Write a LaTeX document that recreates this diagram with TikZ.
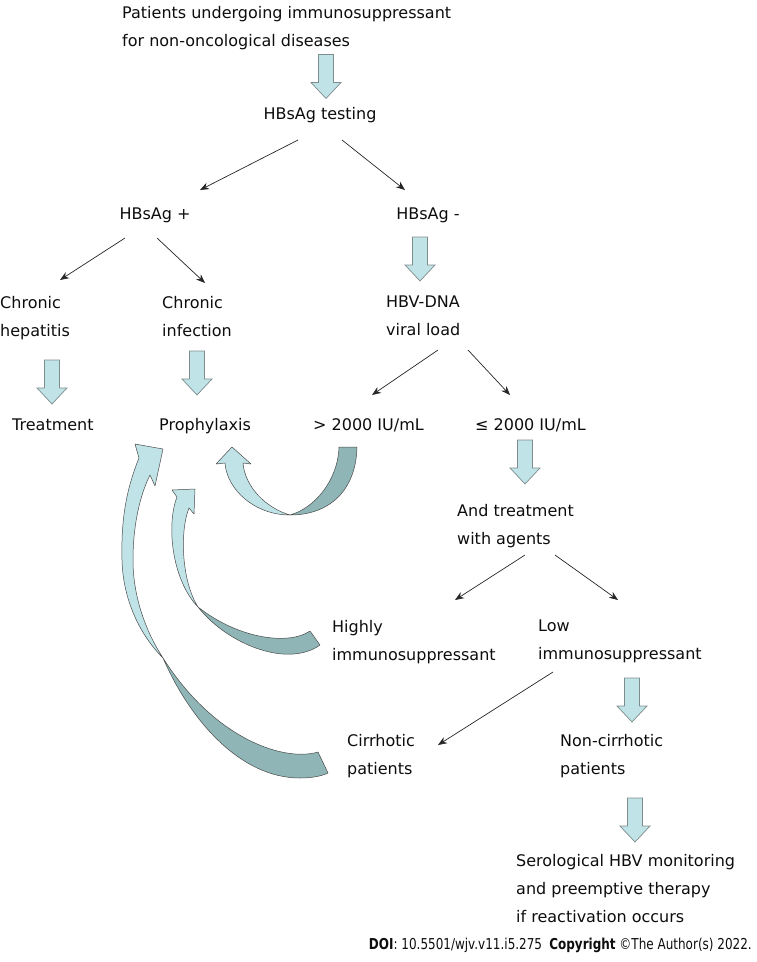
\documentclass[tikz,border=0pt]{standalone}
\usepackage{fontspec}
\setmainfont{DejaVu Sans}
\usetikzlibrary{arrows.meta}
\definecolor{ribbonlight}{HTML}{BFE3E7}
\definecolor{ribbondark}{HTML}{8FB5B6}
\definecolor{ribbonedge}{HTML}{4A4A4A}
\definecolor{blockedge}{HTML}{7F8C8D}
\tikzset{
  txt/.style={inner sep=0pt, align=left, font=\fontsize{16}{28}\selectfont, text=black!95},
  one/.style={txt, text height=12pt, text depth=4pt},
  thinarr/.style={-{Stealth[length=9pt, width=7pt]}, line width=0.7pt, draw=black!85},
  blockfill/.style={draw=blockedge, fill=ribbonlight, line width=0.7pt, line join=miter},
  pics/blockarr/.style={code={
    \draw[blockfill] (-7.5,-22) -- (7.5,-22) -- (7.5,6) -- (15,6) -- (0,22)
      -- (-15,6) -- (-7.5,6) -- cycle;}},
  lightface/.style={fill=ribbonlight, draw=ribbonedge, line width=0.5pt, line join=round},
  darkface/.style={fill=ribbondark, draw=ribbonedge, line width=0.5pt, line join=round},
}

\begin{document}
\begin{tikzpicture}[x=1pt, y=-1pt]
  \useasboundingbox (0,0) rectangle (757,962);

  % Top of the chart
  \node[txt, anchor=north west] (pts) at (122,6) {Patients undergoing immunosuppressant\\for non-oncological diseases};
  \node[one] (testing) at (320,115) {HBsAg testing};
  \node[one] (hbpos) at (155,215) {HBsAg +};
  \node[one] (hbneg) at (428,215) {HBsAg -};

  % Second level
  \node[txt, anchor=north west] (hepat) at (0,296) {Chronic\\hepatitis};
  \node[txt, anchor=north west] (infect) at (162,296) {Chronic\\infection};
  \node[txt, anchor=north west] (hbvdna) at (386,296) {HBV-DNA\\viral load};

  % Outcome row
  \node[one, anchor=west] (treat) at (12,426) {Treatment};
  \node[one, anchor=west] (proph) at (159,426) {Prophylaxis};
  \node[one, anchor=west] (over) at (313,426) {> 2000 IU/mL};
  \node[one, anchor=west] (under) at (475,426) {≤ 2000 IU/mL};

  % Low viral load branch
  \node[txt, anchor=north west] (agents) at (457,504) {And treatment\\with agents};
  \node[txt, anchor=north west] (highly) at (332,620) {Highly\\immunosuppressant};
  \node[txt, anchor=north west] (low) at (538,620) {Low\\immunosuppressant};
  \node[txt, anchor=north west] (cirr) at (347,734) {Cirrhotic\\patients};
  \node[txt, anchor=north west] (noncirr) at (560,734) {Non-cirrhotic\\patients};
  \node[txt, anchor=north west] (sero) at (516,854) {Serological HBV monitoring\\and preemptive therapy\\if reactivation occurs};

  % Footer
  \node[one, anchor=east] (doi) at (752,945) {\scalebox{0.8}[1]{\fontsize{15}{18}\selectfont\textbf{DOI}: 10.5501/wjv.v11.i5.275\hspace{0.6em}\textbf{Copyright} ©The Author(s) 2022.}};

  % Block arrows
  \pic (bA) at (326,76.5) {blockarr};
  \pic (bB) at (420,259) {blockarr};
  \pic (bC) at (52,382) {blockarr};
  \pic (bD) at (197,373) {blockarr};
  \pic (bE) at (525,462) {blockarr};
  \pic (bF) at (632,700) {blockarr};
  \pic (bG) at (635,820) {blockarr};

  % Thin arrows
  \draw[thinarr] ([shift={(-22,25)}]testing.center) -- ([shift={(45,-25)}]hbpos.center);
  \draw[thinarr] ([shift={(22,25)}]testing.center) -- ([shift={(-23,-25)}]hbneg.center);
  \draw[thinarr] ([shift={(-30,23)}]hbpos.center) -- ([shift={(60,-16)}]hepat.north west);
  \draw[thinarr] ([shift={(2,23)}]hbpos.center) -- ([shift={(43,-13)}]infect.north west);
  \draw[thinarr] ([shift={(52,54)}]hbvdna.north west) -- ([shift={(59,-31)}]over.west);
  \draw[thinarr] ([shift={(82,54)}]hbvdna.north west) -- ([shift={(35,-31)}]under.west);
  \draw[thinarr] ([shift={(68,51)}]agents.north west) -- ([shift={(123,-20)}]highly.north west);
  \draw[thinarr] ([shift={(98,51)}]agents.north west) -- ([shift={(80,-20)}]low.north west);
  \draw[thinarr] ([shift={(15,52)}]low.north west) -- ([shift={(91,11)}]cirr.north west);

  % Curved arrow: > 2000 IU/mL back to prophylaxis
  \draw[lightface] (290,515) .. controls (255,515) and (227,490) .. (225,463)
    -- (216,464) -- (232,447) -- (251,464) -- (243,463)
    .. controls (245,487) and (266,508) .. cycle;
  \draw[darkface] (290,515) .. controls (330,515) and (356,490) .. (357,447)
    -- (339,447) .. controls (338,480) and (315,508) .. cycle;

  % Curved arrow: highly immunosuppressant to prophylaxis
  \draw[lightface] (198,607) .. controls (172,580) and (166,525) .. (177,497)
    -- (172,490) -- (195,489) -- (194,514) -- (189,508)
    .. controls (180,530) and (181,580) .. cycle;
  \draw[darkface] (198,607) .. controls (228,645) and (288,668) .. (320,645)
    -- (310,631) .. controls (290,645) and (240,640) .. cycle;

  % Curved arrow: cirrhotic patients to prophylaxis
  \draw[lightface] (163,658) .. controls (140,635) and (123,600) .. (122,560)
    .. controls (121,520) and (126,490) .. (139,458)
    -- (135,444) -- (163,449) -- (155,486) -- (150,475)
    .. controls (140,495) and (133,525) .. (133,560)
    .. controls (133,600) and (148,635) .. cycle;
  \draw[darkface] (163,658) .. controls (190,720) and (240,778) .. (300,778)
    .. controls (312,778) and (322,776) .. (328,773)
    -- (318,752) .. controls (285,762) and (215,740) .. cycle;
\end{tikzpicture}
\end{document}
